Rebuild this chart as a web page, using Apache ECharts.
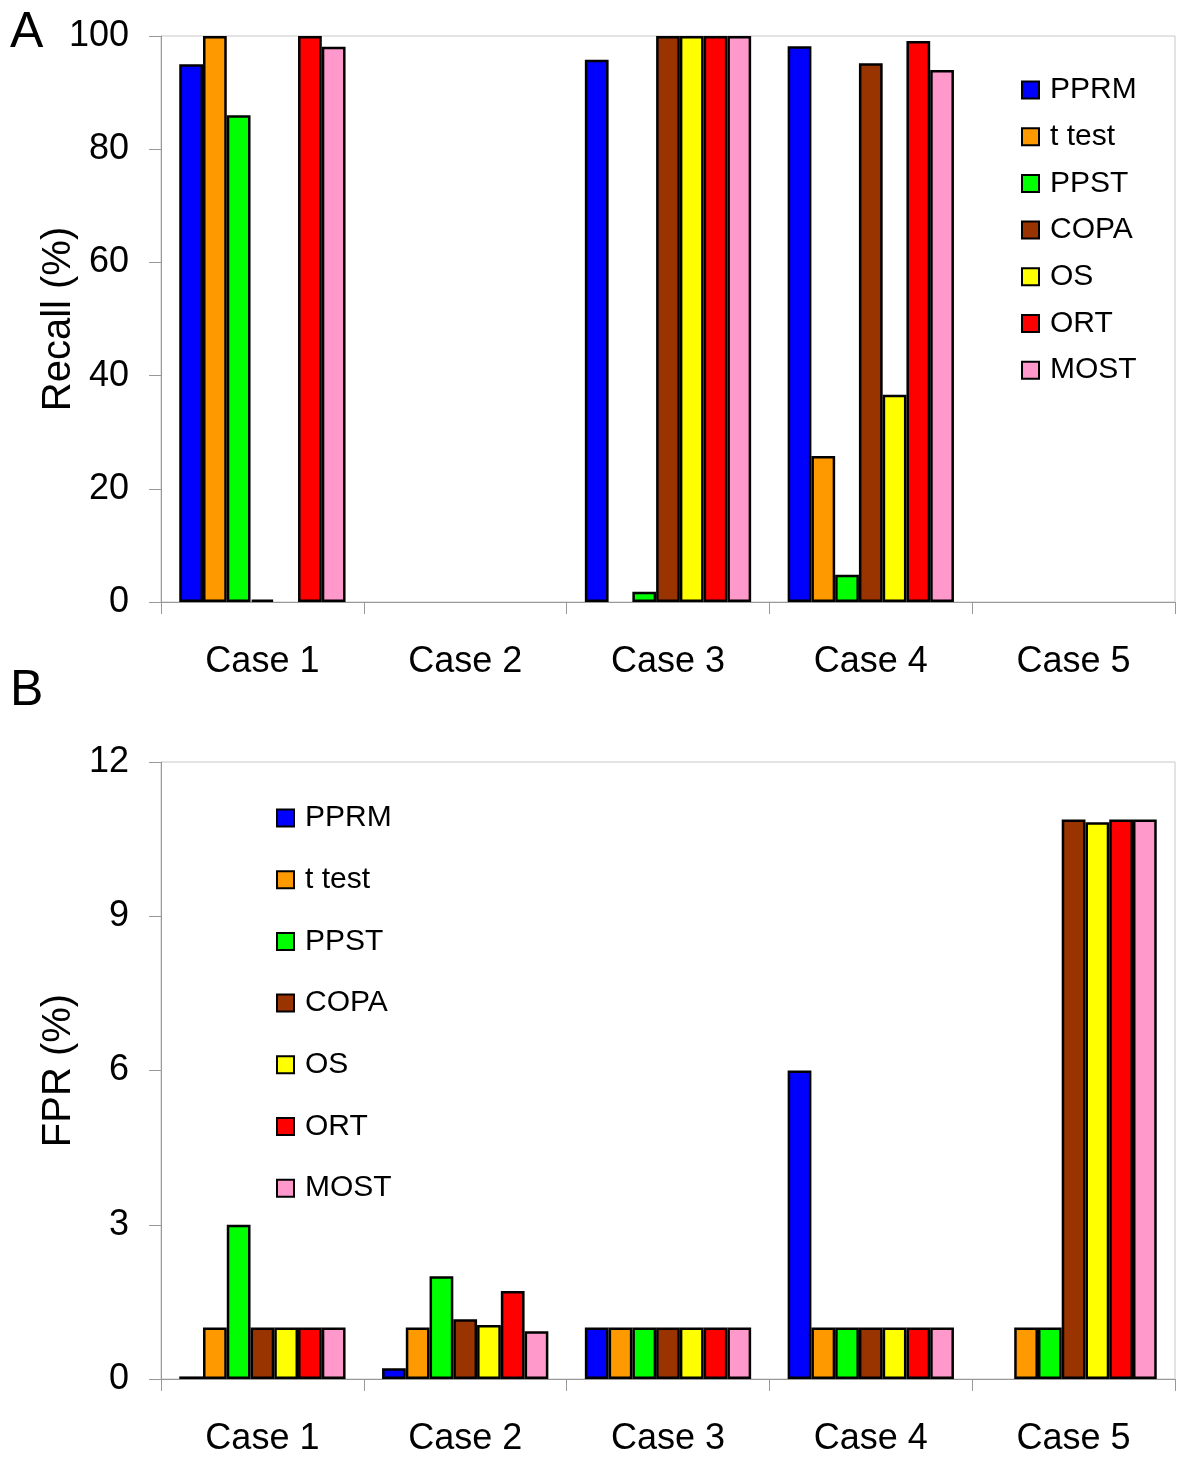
<!DOCTYPE html>
<html>
<head>
<meta charset="utf-8">
<script src="https://cdn.jsdelivr.net/npm/echarts@6/dist/echarts.min.js"></script>
<style>
html,body{margin:0;padding:0;background:#fff;}
#chart{width:1200px;height:1465px;}
</style>
</head>
<body>
<div id="chart"></div>
<script>
const categories = ['Case 1', 'Case 2', 'Case 3', 'Case 4', 'Case 5'];
const methods = ['PPRM', 't test', 'PPST', 'COPA', 'OS', 'ORT', 'MOST'];
const colors = ['#0000FF', '#FF9900', '#00FF00', '#993300', '#FFFF00', '#FF0000', '#FF99CC'];

// Panel A: Recall (%) per method, per case
const recallPPRM  = [95, 0, 95.8, 98.2, 0];
const recallTtest = [100, 0, 0, 25.8, 0];
const recallPPST  = [86, 0, 1.8, 4.8, 0];
const recallCOPA  = [0.4, 0, 100, 95.2, 0];
const recallOS    = [0, 0, 100, 36.6, 0];
const recallORT   = [100, 0, 100, 99.1, 0];
const recallMOST  = [98.1, 0, 100, 94, 0];

// Panel B: FPR (%) per method, per case
const fprPPRM  = [0.05, 0.21, 1, 6, 0];
const fprTtest = [1, 1, 1, 1, 1];
const fprPPST  = [3, 2, 1, 1, 1];
const fprCOPA  = [1, 1.16, 1, 1, 10.88];
const fprOS    = [1, 1.05, 1, 1, 10.83];
const fprORT   = [1, 1.71, 1, 1, 10.88];
const fprMOST  = [1, 0.93, 1, 1, 10.88];

const recallTicks = [0, 20, 40, 60, 80, 100];
const fprTicks = [0, 3, 6, 9, 12];

const recallData = [recallPPRM, recallTtest, recallPPST, recallCOPA, recallOS, recallORT, recallMOST];
const fprData = [fprPPRM, fprTtest, fprPPST, fprCOPA, fprOS, fprORT, fprMOST];

const FONT = '"Liberation Sans", Arial, sans-serif';
const toBars = arr => arr.map(v => (v === 0 ? '-' : v));

const series = [];
methods.forEach((m, i) => {
  series.push({
    name: m, type: 'bar', xAxisIndex: 0, yAxisIndex: 0,
    data: toBars(recallData[i]),
    barGap: '0%', barCategoryGap: '18%',
    itemStyle: { color: colors[i], borderColor: '#000', borderWidth: 2.5 },
    emphasis: { disabled: true }
  });
});
methods.forEach((m, i) => {
  series.push({
    name: m, type: 'bar', xAxisIndex: 1, yAxisIndex: 1,
    data: toBars(fprData[i]),
    barGap: '0%', barCategoryGap: '18%',
    itemStyle: { color: colors[i], borderColor: '#000', borderWidth: 2.5 },
    emphasis: { disabled: true }
  });
});

function xAxisCfg(idx) {
  return {
    type: 'category', gridIndex: idx, data: categories,
    axisLine: { show: true, lineStyle: { color: '#999', width: 1 } },
    axisTick: { show: true, length: 12, lineStyle: { color: '#999' } },
    axisLabel: { color: '#000', fontSize: 36, fontFamily: FONT, margin: 42 },
    splitLine: { show: false }
  };
}
function yAxisCfg(idx, name, ticks) {
  return {
    type: 'value', gridIndex: idx, min: ticks[0], max: ticks[ticks.length - 1],
    interval: ticks[1] - ticks[0],
    name: name, nameLocation: 'middle', nameGap: 82, nameMoveOverlap: false,
    nameTextStyle: { color: '#000', fontSize: 40, fontFamily: FONT },
    axisLine: { show: true, lineStyle: { color: '#999', width: 1 } },
    axisTick: { show: true, length: 12, lineStyle: { color: '#999' } },
    axisLabel: { color: '#000', fontSize: 36, fontFamily: FONT, margin: 32 },
    splitLine: { show: false }
  };
}

const legendBase = {
  orient: 'vertical', itemWidth: 17, itemHeight: 17, icon: 'rect',
  selectedMode: false, padding: 0,
  textStyle: { color: '#000', fontSize: 30, fontFamily: FONT, lineHeight: 30, padding: [0, 0, 0, 6] },
  data: methods
};

const option = {
  animation: false,
  backgroundColor: '#fff',
  grid: [
    { left: 161, right: 25, top: 36, height: 566, show: true, borderColor: '#c8c8c8', borderWidth: 1, containLabel: false },
    { left: 161, right: 25, top: 762, height: 617, show: true, borderColor: '#c8c8c8', borderWidth: 1, containLabel: false }
  ],
  xAxis: [xAxisCfg(0), xAxisCfg(1)],
  yAxis: [yAxisCfg(0, 'Recall (%)', recallTicks), yAxisCfg(1, 'FPR (%)', fprTicks)],
  legend: [
    Object.assign({}, legendBase, { left: 1021, top: 75, itemGap: 16.7 }),
    Object.assign({}, legendBase, { left: 276, top: 803, itemGap: 31.7 })
  ],
  graphic: [
    { type: 'text', left: 10, top: 8, style: { text: 'A', fontSize: 50, fontFamily: FONT, fill: '#000' } },
    { type: 'text', left: 10, top: 666, style: { text: 'B', fontSize: 50, fontFamily: FONT, fill: '#000' } }
  ],
  series: series
};

const chart = echarts.init(document.getElementById('chart'), null, { renderer: 'canvas' });
chart.setOption(option);
</script>
</body>
</html>
